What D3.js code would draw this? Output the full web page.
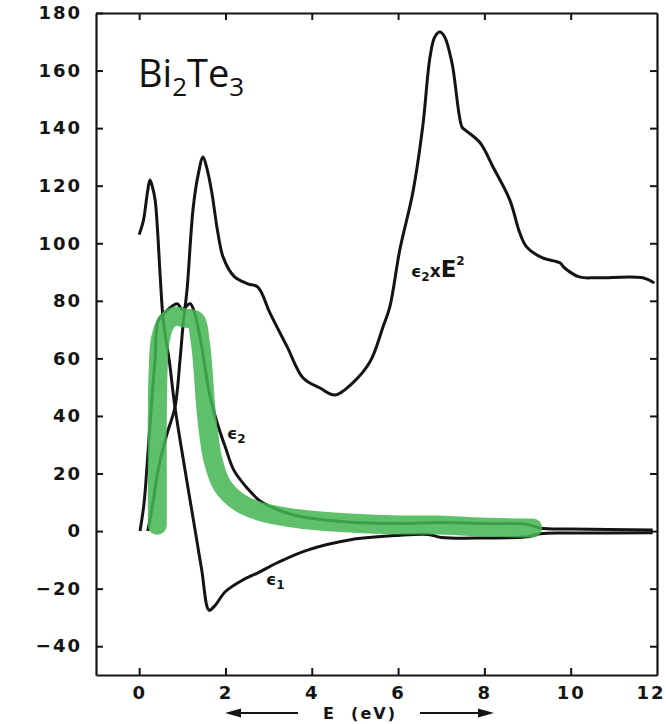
<!DOCTYPE html>
<html>
<head>
<meta charset="utf-8">
<script src="https://cdn.jsdelivr.net/npm/d3@7"></script>
<style>
  body { margin: 0; background: #fff; }
  svg { display: block; }
</style>
</head>
<body>
<svg id="chart" width="666" height="724"></svg>
<script>
// values: [E (eV), value]
const eps1 = [
  [0, 103], [0.1, 108], [0.19, 117.5], [0.25, 122], [0.3, 120], [0.37, 115],
  [0.42, 106], [0.49, 88], [0.56, 73], [0.7, 59], [0.83, 43], [1.11, 17],
  [1.3, 0], [1.45, -13.5], [1.62, -27.5], [1.75, -26], [2.0, -21], [2.4, -17],
  [2.75, -14.5], [3.2, -11], [3.9, -6.6], [4.9, -3], [6.0, -1.5], [6.7, -1.2],
  [7.0, -2.2], [8.0, -2.4], [9.0, -2], [9.3, -0.9], [10, -0.7], [11.9, -0.6]
];
const eps2 = [
  [0.02, 0], [0.1, 8], [0.14, 14], [0.25, 37], [0.37, 60], [0.44, 73],
  [0.6, 76], [0.88, 79], [1.0, 77], [1.18, 79], [1.3, 75], [1.45, 64],
  [1.64, 47], [1.8, 38], [2.0, 29], [2.2, 21], [2.5, 15], [2.8, 10.5],
  [3.2, 7.5], [3.6, 5.5], [4.2, 4], [5, 3], [6, 2.6], [7, 3], [8, 2.6],
  [9, 2.3], [9.3, 1], [10, 0.7], [11.9, 0.4]
];
const eps2E2 = [
  [0.2, 0], [0.3, 8], [0.45, 22], [0.65, 34], [0.83, 43], [0.95, 60],
  [1.02, 72], [1.11, 84], [1.25, 112], [1.37, 124], [1.48, 130], [1.57, 126],
  [1.68, 118], [1.82, 104], [1.95, 95], [2.2, 88.5], [2.5, 86], [2.75, 84.8],
  [3.03, 75.8], [3.43, 64], [3.8, 53.2], [4.19, 49.7], [4.54, 47.3], [4.95, 51.5],
  [5.35, 58.8], [5.65, 70.9], [5.81, 78], [6.04, 97.7], [6.34, 117.5], [6.57, 140.4],
  [6.74, 164.7], [6.85, 171.7], [6.97, 173.4], [7.08, 171.7], [7.25, 162.6],
  [7.48, 140.4], [7.55, 139.4], [7.9, 134.9], [8.2, 126.5], [8.59, 115],
  [8.82, 103.6], [8.98, 98.7], [9.35, 94.9], [9.75, 93.2], [9.86, 91.4],
  [10.2, 88.3], [10.6, 88], [11.67, 88], [11.94, 86.2]
];
// green hand-drawn trace laid over eps2
const trace = [
  [0.42, 2], [0.42, 21], [0.42, 38.6], [0.44, 56], [0.49, 66.4], [0.63, 72.6],
  [0.83, 74.7], [1.06, 74], [1.3, 73.3], [1.41, 66.4], [1.48, 56], [1.53, 45.5],
  [1.6, 35], [1.71, 24.7], [1.92, 16], [2.34, 9.8], [2.92, 6.3], [3.73, 4.2],
  [4.88, 2.8], [6.04, 2.1], [6.97, 2.1], [7.9, 1.4], [9.12, 1.1]
];
const yTicks = [-40, -20, 0, 20, 40, 60, 80, 100, 120, 140, 160, 180];
const xTicks = [0, 2, 4, 6, 8, 10, 12];

const svg = d3.select("#chart");
const x = d3.scaleLinear().domain([-1, 12]).range([96, 657]);
const y = d3.scaleLinear().domain([-50, 180]).range([675, 13]);

const ink = "#141414";
const tickFont = (g) =>
  g.selectAll("text")
    .attr("font-family", "DejaVu Sans")
    .attr("font-weight", "bold")
    .attr("font-size", 18)
    .attr("letter-spacing", 2)
    .attr("fill", ink);
const styleAxis = (g) => {
  g.select(".domain").attr("stroke", ink).attr("stroke-width", 2.2);
  g.selectAll(".tick line").attr("stroke", ink).attr("stroke-width", 2);
};

// frame with inward ticks
svg.append("g")
  .attr("transform", `translate(${x(-1)},0)`)
  .call(d3.axisLeft(y).tickValues(yTicks).tickSize(-7).tickSizeOuter(0).tickPadding(14))
  .call(styleAxis)
  .call(tickFont);

svg.append("g")
  .attr("transform", `translate(${x(12)},0)`)
  .call(d3.axisRight(y).tickValues(yTicks.slice(0, -1)).tickSize(-7).tickSizeOuter(0).tickFormat(""))
  .call(styleAxis);

svg.append("g")
  .attr("transform", `translate(0,${y(-50)})`)
  .call(d3.axisBottom(x).tickValues(xTicks).tickSize(-7).tickSizeOuter(0).tickPadding(11))
  .call(styleAxis)
  .call(tickFont)
  .call((g) => {
    const last = g.selectAll(".tick").filter((d) => d === 12);
    last.select("line").remove();
    last.select("text").attr("text-anchor", "end").attr("x", 8);
  });

svg.append("g")
  .attr("transform", `translate(0,${y(180)})`)
  .call(d3.axisTop(x).tickValues(xTicks.slice(0, -1)).tickSize(-7).tickSizeOuter(0).tickFormat(""))
  .call(styleAxis);

// x axis title with arrows
const ty = 713;
svg.append("text")
  .attr("x", 360)
  .attr("y", ty + 6)
  .attr("text-anchor", "middle")
  .attr("font-family", "DejaVu Sans")
  .attr("font-weight", "bold")
  .attr("font-size", 16)
  .attr("letter-spacing", 2)
  .attr("fill", ink)
  .attr("xml:space", "preserve")
  .text("E  (eV)");
svg.append("line").attr("x1", 236).attr("x2", 298).attr("y1", ty).attr("y2", ty)
  .attr("stroke", ink).attr("stroke-width", 2);
svg.append("path").attr("d", `M225,${ty} L241,${ty - 4.5} L241,${ty + 4.5} Z`).attr("fill", ink);
svg.append("line").attr("x1", 420).attr("x2", 482).attr("y1", ty).attr("y2", ty)
  .attr("stroke", ink).attr("stroke-width", 2);
svg.append("path").attr("d", `M494,${ty} L478,${ty - 4.5} L478,${ty + 4.5} Z`).attr("fill", ink);

// curves
const line = d3.line()
  .x((d) => x(d[0]))
  .y((d) => y(d[1]))
  .curve(d3.curveCatmullRom.alpha(0.5));

svg.selectAll(".curve")
  .data([eps1, eps2, eps2E2])
  .join("path")
  .attr("class", "curve")
  .attr("d", line)
  .attr("fill", "none")
  .attr("stroke", ink)
  .attr("stroke-width", 3)
  .attr("stroke-linejoin", "round");

svg.append("path")
  .datum(trace)
  .attr("d", line)
  .attr("fill", "none")
  .attr("stroke", "#45b653")
  .attr("stroke-opacity", 0.86)
  .attr("stroke-width", 19)
  .attr("stroke-linecap", "round")
  .attr("stroke-linejoin", "round");

// curve labels
const label = (px, py, parts) => {
  const t = svg.append("text")
    .attr("x", px)
    .attr("y", py)
    .attr("font-family", "DejaVu Sans")
    .attr("font-weight", "bold")
    .attr("fill", ink);
  parts.forEach((p) => {
    t.append("tspan")
      .attr("font-size", p.size)
      .attr("dy", p.dy || 0)
      .text(p.text);
  });
};
label(227, 439, [{ text: "\u03f5", size: 16 }, { text: "2", size: 12, dy: 4 }]);
label(266, 585, [{ text: "\u03f5", size: 16 }, { text: "1", size: 12, dy: 4 }]);
label(411, 277, [
  { text: "\u03f5", size: 16 }, { text: "2", size: 12, dy: 4 },
  { text: "x", size: 17, dy: -4 }, { text: "E", size: 23 },
  { text: "2", size: 12, dy: -12 }
]);

// compound name
const title = svg.append("text")
  .attr("x", 138)
  .attr("y", 87)
  .attr("font-family", "Open Sans")
  .attr("font-size", 38)
  .attr("fill", "#111");
title.append("tspan").text("Bi");
title.append("tspan").attr("font-size", 26).attr("dy", 9).text("2");
title.append("tspan").attr("dy", -9).text("Te");
title.append("tspan").attr("font-size", 26).attr("dy", 9).text("3");
</script>
</body>
</html>
